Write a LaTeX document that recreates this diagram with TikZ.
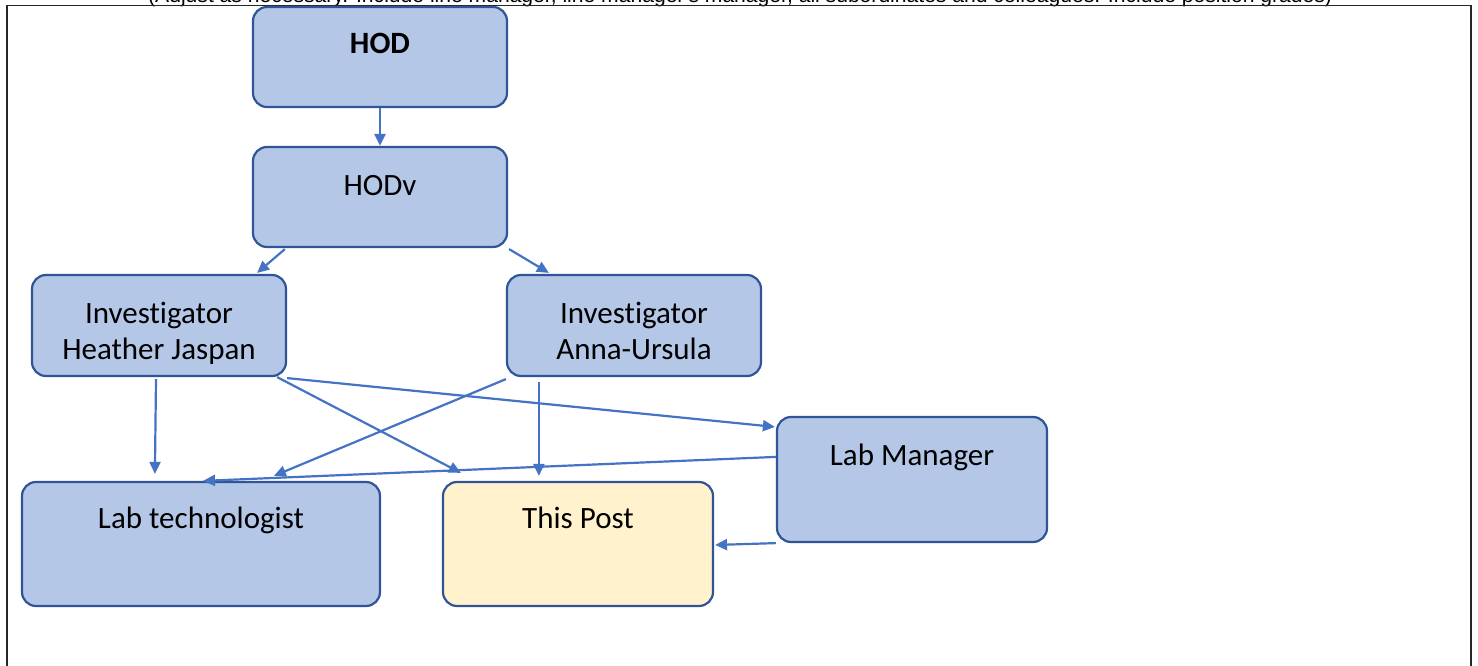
\documentclass[tikz,border=0pt]{standalone}
\usepackage{fontspec}
\setmainfont{Carlito}[Ligatures=NoCommon]
\newfontfamily\arialfont{Liberation Sans}
\usetikzlibrary{arrows.meta,calc}
\definecolor{boxc}{HTML}{B4C7E7}
\definecolor{postc}{HTML}{FFF2CC}
\definecolor{bordc}{HTML}{2F5597}
\definecolor{arrc}{HTML}{4472C4}
\newcommand{\twolines}[2]{\raisebox{-15pt}[0pt][0pt]{\begin{tabular}{@{}c@{}}#1\\#2\end{tabular}}}
\tikzset{
  orgbox/.style={draw=bordc, fill=boxc, line width=2.2pt, rounded corners=14pt,
    inner sep=0pt, font=\fontsize{31}{36}\selectfont, align=center},
  conn/.style={draw=arrc, line width=2.2pt, -{Triangle[length=12pt,width=11pt]}},
  frame/.style={draw=black!85, line width=1.6pt}
}
\begin{document}
\begin{tikzpicture}[x=1pt,y=-1pt]
\useasboundingbox (0,0) rectangle (1478,666);
\node[anchor=base west, inner sep=0pt, font=\arialfont] (note) at (148,2.5)
  {\resizebox{1184pt}{!}{(Adjust as necessary. Include line manager, line manager's manager, all subordinates and colleagues. Include position grades)}};
\draw[frame] (7,5.5) rectangle (1471,720);

\node[orgbox, minimum width=254pt, text height=47pt, text depth=53pt, font=\fontsize{31}{36}\selectfont\bfseries] (hod) at (380,57) {HOD};
\node[orgbox, minimum width=254pt, text height=48pt, text depth=52pt] (hodv) at (380,197) {HODv};
\node[orgbox, minimum width=254pt, minimum height=101pt] (hj) at (159,325.5) {\twolines{Investigator}{Heather Jaspan}};
\node[orgbox, minimum width=254pt, minimum height=101pt] (au) at (634,325.5) {\twolines{Investigator}{Anna-Ursula}};
\node[orgbox, minimum width=270pt, text height=48pt, text depth=77pt] (lm) at (912,479.5) {Lab Manager};
\node[orgbox, minimum width=358pt, text height=46pt, text depth=78pt] (lt) at (201,544) {Lab technologist};
\node[orgbox, fill=postc, minimum width=270pt, text height=46pt, text depth=78pt] (tp) at (578,544) {This Post};

\draw[conn] (hod.south) -- (hodv.north);
\draw[conn] ($(hodv.south west)+(33,1)$) -- ($(hj.north east)+(-30,-1)$);
\draw[conn] ($(hodv.south east)+(1,1)$) -- ($(au.north west)+(43,-1)$);
\draw[conn] ($(hj.south)+(-3,2)$) -- ($(lt.north west)+(134,-7)$);
\draw[conn] ($(hj.south east)+(-10,0)$) -- ($(tp.north west)+(19,-8)$);
\draw[conn] ($(hj.south east)+(0,1)$) -- ($(lm.north west)+(-1,11)$);
\draw[conn] ($(au.south west)+(0,2)$) -- ($(lt.north west)+(253,-5)$);
\draw[conn] ($(au.south west)+(33,5)$) -- ($(tp.north west)+(97,-5)$);
\draw[conn] ($(lm.north west)+(0,41)$) -- ($(lt.north)+(2,0)$);
\draw[conn] ($(lm.south west)+(0,0)$) -- ($(tp.east)+(1,1)$);
\end{tikzpicture}
\end{document}
